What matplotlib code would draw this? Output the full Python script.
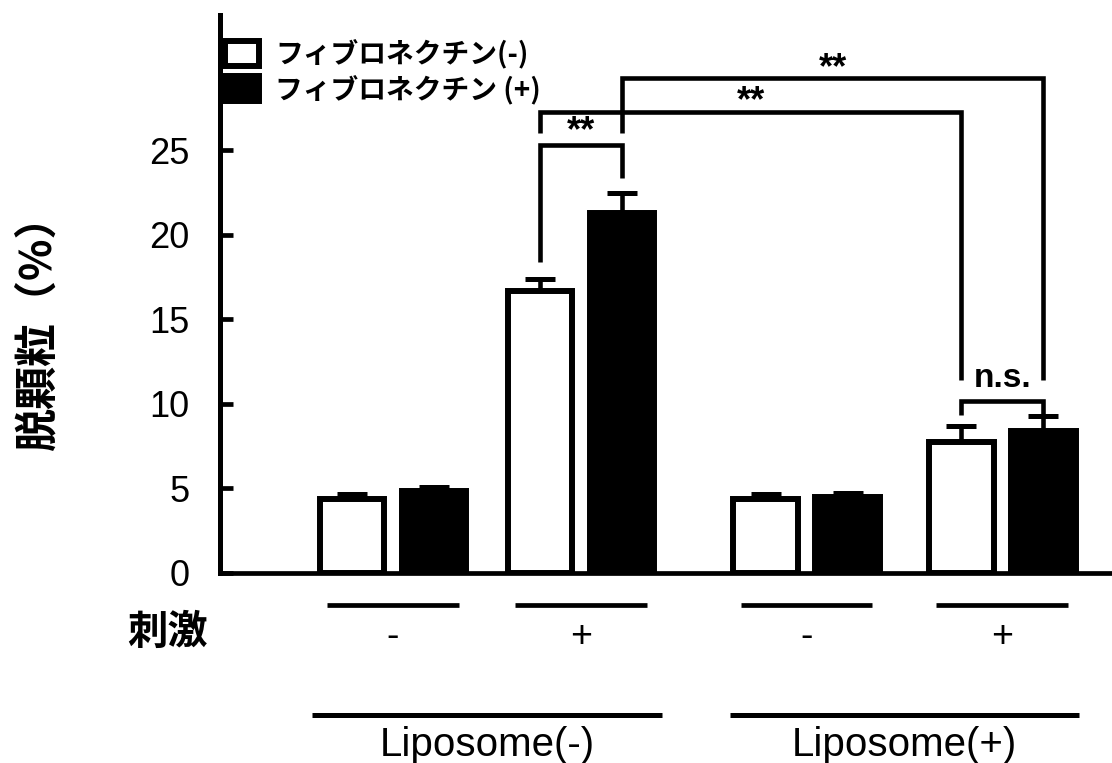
import matplotlib
matplotlib.use("Agg")
import matplotlib.pyplot as plt

plt.rcParams['font.family'] = ['Liberation Sans', 'Noto Sans CJK JP']
JP = ['Noto Sans CJK JP', 'Liberation Sans']

# data
stim_labels = ['-', '+', '-', '+']
lipo_labels = ['Liposome(-)', 'Liposome(+)']
series_names = ['フィブロネクチン(-)', 'フィブロネクチン (+)']
fn_minus = [4.35, 16.7, 4.35, 7.75]
fn_minus_err = [0.3, 0.7, 0.3, 0.95]
fn_plus = [4.85, 21.3, 4.5, 8.4]
fn_plus_err = [0.25, 1.2, 0.25, 0.9]

# layout
group_x = [0, 1, 2.2, 3.24]
off = 0.218
bw = 0.345
lw = 4.3

fig = plt.figure(figsize=(11.12, 7.63), dpi=100)
ax = fig.add_axes([220 / 1112, 190 / 763, 892 / 1112, 558 / 763])

xw = [g - off for g in group_x]
xb = [g + off for g in group_x]
ekw = dict(ecolor='black', elinewidth=3.3, capsize=11, capthick=3.6)
ax.bar(xw, fn_minus, bw, color='white', edgecolor='black', linewidth=lw,
       label=series_names[0], zorder=3)
ax.bar(xb, fn_plus, bw, color='black', edgecolor='black', linewidth=lw,
       label=series_names[1], zorder=3)
ax.errorbar(xw, fn_minus, yerr=[[0] * 4, fn_minus_err], fmt='none', zorder=2, **ekw)
ax.errorbar(xb, fn_plus, yerr=[[0] * 4, fn_plus_err], fmt='none', zorder=2, **ekw)

ax.set_xlim(-0.92, 3.824)
ax.set_ylim(0, 33)
ax.set_yticks([0, 5, 10, 15, 20, 25])
ax.set_xticks([])
for s in ['top', 'right']:
    ax.spines[s].set_visible(False)
ax.spines['left'].set_linewidth(3.6)
ax.spines['bottom'].set_linewidth(3.4)
ax.tick_params(axis='y', direction='in', length=9, width=3.4, pad=22, labelsize=26)

# significance brackets
blw = 3.3
bk = dict(color='black', lw=blw, solid_capstyle='butt', solid_joinstyle='miter', zorder=4)
star = dict(ha='center', va='center', fontsize=26, fontweight='bold')
ax.plot([xw[1], xw[1], xb[1], xb[1]], [18.4, 25.3, 25.3, 23.35], **bk)
ax.text(group_x[1], 26.1, '**', **star)
ax.plot([xw[1], xw[1], xw[3], xw[3]], [26.05, 27.25, 27.25, 11.4], **bk)
ax.text((xw[1] + xw[3]) / 2, 27.9, '**', **star)
ax.plot([xb[1], xb[1], xb[3], xb[3]], [26.05, 29.25, 29.25, 11.4], **bk)
ax.text((xb[1] + xb[3]) / 2, 29.8, '**', **star)
ax.plot([xw[3], xw[3], xb[3], xb[3]], [9.35, 10.2, 10.2, 9.35], **bk)
ax.text(group_x[3], 11.5, 'n.s.', ha='center', va='center', fontsize=24, fontweight='bold')

# condition rows under the axis
for g, lab in zip(group_x, stim_labels):
    ax.plot([g - 0.35, g + 0.35], [-1.9, -1.9], color='black', lw=3.4, clip_on=False,
            solid_capstyle='butt')
    ax.text(g, -3.8, lab, ha='center', va='center', fontsize=27)
for i, lab in enumerate(lipo_labels):
    c = (group_x[2 * i] + group_x[2 * i + 1]) / 2
    ax.plot([c - 0.93, c + 0.93], [-8.4, -8.4], color='black', lw=3.6, clip_on=False,
            solid_capstyle='butt')
    ax.text(c, -10.2, lab, ha='center', va='center', fontsize=29)

fig.text(127 / 1112, 1 - 632 / 763, '刺激', ha='left', va='center', fontsize=29,
         fontweight='bold', family=JP)
fig.text(37 / 1112, 1 - 322 / 763, '脱顆粒（%）', ha='center', va='center', rotation=90,
         fontsize=31, fontweight='bold', family=JP)

leg = ax.legend(loc='upper left', bbox_to_anchor=(225 / 1112, 1 - 39 / 763),
                bbox_transform=fig.transFigure, frameon=False, borderpad=0,
                borderaxespad=0, handlelength=1.22, handleheight=1.0,
                handletextpad=0.58, labelspacing=0.22,
                prop=dict(family=JP, weight='bold', size=20))

fig.savefig('out.png', dpi=100)
